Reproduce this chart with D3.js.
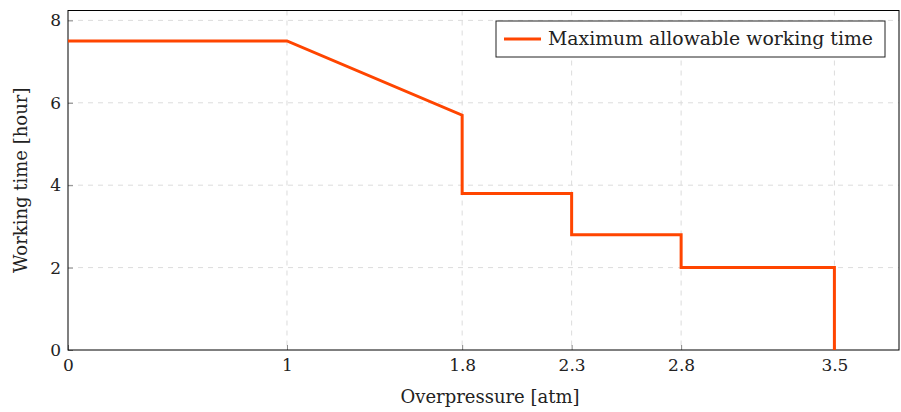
<!DOCTYPE html>
<html>
<head>
<meta charset="utf-8">
<script src="https://cdn.jsdelivr.net/npm/d3@7"></script>
<style>
body { margin: 0; background: #fff; }
svg text { font-family: "DejaVu Serif", serif; fill: #222; }
.grid line { stroke: #dcdcdc; stroke-dasharray: 5,5; stroke-width: 1; }
</style>
</head>
<body>
<div id="chart"></div>
<script>
// data
var pressure = [0, 1, 1.8, 1.8, 2.3, 2.3, 2.8, 2.8, 3.5, 3.5];
var workTime = [7.5, 7.5, 5.7, 3.8, 3.8, 2.8, 2.8, 2.0, 2.0, 0];
var xTicks = [0, 1, 1.8, 2.3, 2.8, 3.5];
var yTicks = [0, 2, 4, 6, 8];
var seriesName = "Maximum allowable working time";

var W = 901, H = 412;
var margin = {top: 10.5, right: 2, bottom: 62, left: 68};
var width = W - margin.left - margin.right;
var height = H - margin.top - margin.bottom;
var serif = "DejaVu Serif";

var svg = d3.select("#chart").append("svg")
	.attr("width", W)
	.attr("height", H);
var g = svg.append("g")
	.attr("transform", "translate(" + margin.left + "," + margin.top + ")");

var x = d3.scaleLinear().domain([0, 3.795]).range([0, width]);
var y = d3.scaleLinear().domain([0, 8.24]).range([height, 0]);

//grid lines
var grid = g.append("g").attr("class", "grid");
grid.selectAll(".gx").data(xTicks.slice(1))
	.enter().append("line")
	.attr("x1", d => x(d)).attr("x2", d => x(d))
	.attr("y1", 0).attr("y2", height);
grid.selectAll(".gy").data(yTicks.slice(1))
	.enter().append("line")
	.attr("x1", 0).attr("x2", width)
	.attr("y1", d => y(d)).attr("y2", d => y(d));

//axes with inward ticks
var xAxis = g.append("g")
	.attr("transform", "translate(0," + height + ")")
	.call(d3.axisBottom(x).tickValues(xTicks).tickSizeInner(-5).tickSizeOuter(0).tickPadding(9)
		.tickFormat(d => d));
var yAxis = g.append("g")
	.call(d3.axisLeft(y).tickValues(yTicks).tickSizeInner(-5).tickSizeOuter(0).tickPadding(7));
[xAxis, yAxis].forEach(function(a) {
	a.attr("font-family", serif).attr("font-size", 17);
	a.select(".domain").remove();
	a.selectAll(".tick line").attr("stroke", "#888");
	a.selectAll("text").attr("fill", "#222");
});

//frame
g.append("rect")
	.attr("width", width).attr("height", height)
	.attr("fill", "none").attr("stroke", "#000").attr("stroke-width", 1);

//line
var pts = pressure.map((p, i) => [p, workTime[i]]);
g.append("path")
	.datum(pts)
	.attr("fill", "none")
	.attr("stroke", "#ff4500")
	.attr("stroke-width", 3)
	.attr("d", d3.line().x(d => x(d[0])).y(d => y(d[1])));

//axis titles
svg.append("text")
	.attr("x", 490).attr("y", 403)
	.attr("text-anchor", "middle")
	.attr("font-family", serif).attr("font-size", 18)
	.text("Overpressure [atm]");
svg.append("text")
	.attr("transform", "translate(27," + (margin.top + height / 2) + ") rotate(-90)")
	.attr("text-anchor", "middle")
	.attr("font-family", serif).attr("font-size", 18)
	.text("Working time [hour]");

//legend
var leg = svg.append("g").attr("transform", "translate(496,21)");
leg.append("rect")
	.attr("width", 389).attr("height", 36)
	.attr("fill", "#fff").attr("stroke", "#222").attr("stroke-width", 1);
leg.append("line")
	.attr("x1", 8).attr("x2", 45).attr("y1", 18).attr("y2", 18)
	.attr("stroke", "#ff4500").attr("stroke-width", 3);
leg.append("text")
	.attr("x", 52).attr("y", 24)
	.attr("font-family", serif).attr("font-size", 18)
	.attr("textLength", 325).attr("lengthAdjust", "spacingAndGlyphs")
	.text(seriesName);
</script>
</body>
</html>
